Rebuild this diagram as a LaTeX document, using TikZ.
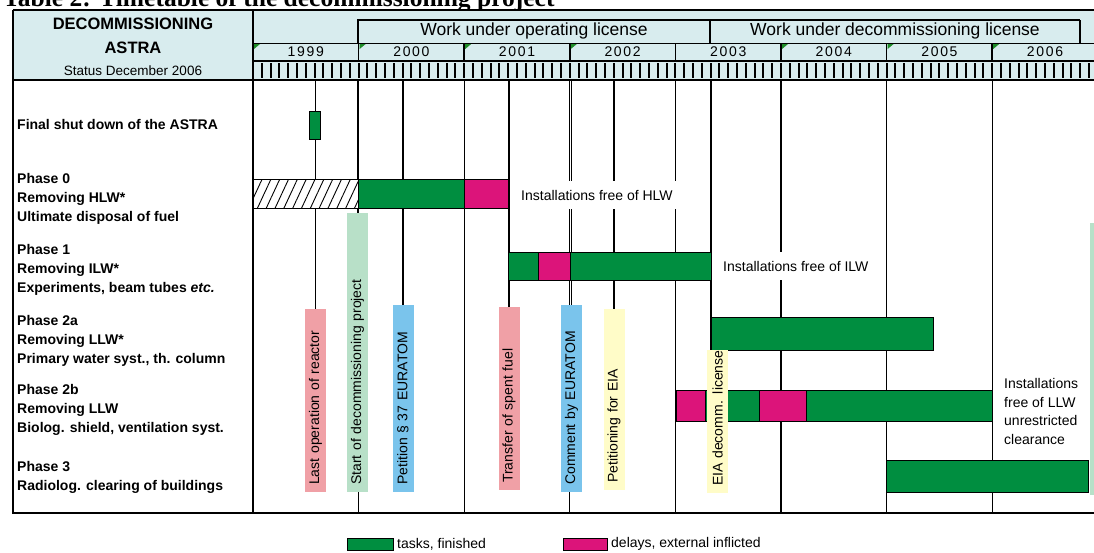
\documentclass[tikz,border=0pt]{standalone}
\usepackage{fontspec}
\setmainfont{Liberation Sans}
\newfontfamily\titlefont{Liberation Serif}
\newfontfamily\yearfont[LetterSpace=12]{Liberation Sans}
\usetikzlibrary{patterns.meta}
\definecolor{hdrbg}{RGB}{216,236,238}
\definecolor{taskgreen}{RGB}{0,142,64}
\definecolor{delaymag}{RGB}{220,20,122}
\definecolor{evpink}{RGB}{240,160,166}
\definecolor{evgreen}{RGB}{184,224,200}
\definecolor{evblue}{RGB}{122,196,236}
\definecolor{evyellow}{RGB}{255,252,200}
\definecolor{yrmark}{RGB}{30,140,40}
\tikzset{
  gridline/.style={line width=1.2pt},
  frameline/.style={line width=1.6pt},
  monthtick/.style={line width=2pt},
  task/.style={draw, line width=1pt, fill=taskgreen},
  delay/.style={draw, line width=1pt, fill=delaymag},
  evlabel/.style={rotate=90, anchor=west, inner xsep=7pt, inner ysep=0pt,
    minimum height=21pt, align=left, font=\fontsize{14}{16}\selectfont},
  rowtext/.style={anchor=north west, align=left, inner sep=0pt,
    font=\fontsize{14}{19}\selectfont\bfseries},
  freetext/.style={fill=white, inner xsep=4pt, minimum height=28pt,
    font=\fontsize{14}{16}\selectfont},
  hdrtext/.style={font=\fontsize{17.5}{19}\selectfont, inner sep=0pt},
  yeartext/.style={font=\yearfont\fontsize{14}{15}\selectfont, inner sep=0pt},
}
\begin{document}
\begin{tikzpicture}[x=1pt,y=-1pt]%[line join=round, line cap=round]
  \useasboundingbox (0,0) rectangle (1094,552);
  \def\xl{13} \def\xs{253} \def\xr{1100} \def\yw{105.6}
  \def\ytop{10} \def\yhdr{80} \def\ybot{513}
  \coordinate (hdr) at (0,\yhdr);
  \node[anchor=base west, inner sep=0pt, font=\titlefont\bfseries\fontsize{25.5}{28}\selectfont] (tabtitle) at (3,6.5) {Table 2: Timetable of the decommissioning project};
  % header
  \fill[hdrbg] (\xl,\ytop) rectangle (\xr,\yhdr);
  \draw[frameline] (\xl,\ytop) -- (\xr,\ytop);
  \draw[frameline] (\xl,\ytop) -- (\xl,\ybot) -- (\xr,\ybot);
  \draw[frameline] (\xs,\ytop) -- (\xs,\ybot);
  \draw[line width=2pt] (\xl,\yhdr) -- (\xr,\yhdr);
  \draw[line width=2pt] (\xs,61) -- (\xr,61);
  \draw[line width=1pt] (\xs,43) -- (\xr,43);
  \draw[frameline] (358,43) -- (358,20) -- (1080,20);
  \draw[frameline] (710,20) -- (710,43);
  \draw[line width=2.5pt] (1080,20) -- (1080,43);
  \node[font=\fontsize{16.5}{18}\selectfont\bfseries] (hdrdecom) at (133,24) {DECOMMISSIONING};
  \node[font=\fontsize{16.5}{18}\selectfont\bfseries] (hdrastra) at (133,48) {ASTRA};
  \node[font=\fontsize{13.5}{15}\selectfont] (hdrstatus) at (133,71) {Status December 2006};
  \node[hdrtext] (oplic) at (534,31) {Work under operating license};
  \node[hdrtext] (declic) at (895,31) {Work under decommissioning license};
  \foreach \yr [count=\i from 0] in {1999,...,2006}{
    \node[yeartext] (y\yr) at ({\xs+\yw*(\i+0.5)},52) {\yr};
    \draw[line width=1.6pt] ({\xs+\yw*\i},43) -- ({\xs+\yw*\i},61);
  }
  \foreach \i in {0,1,2,3,5,6,7}
    \fill[yrmark] ({\xs+\yw*\i+1},44) -- ++(6,0) -- ++(-6,5) -- cycle;
  \foreach \m in {0,...,95}
    \draw[monthtick] ({\xs+\m*8.8},63) -- ++(0,15);
  % year lines
  \foreach \i in {1,...,7}
    \draw[gridline] ({\xs+\yw*\i},\yhdr) -- ({\xs+\yw*\i},\ybot);
  % rows
  \node[rowtext] (rshut) at (17,119) {Final shut down of the ASTRA};
  \node[rowtext] (rph0) at (17,173) {Phase 0\\Removing HLW*\\Ultimate disposal of fuel};
  \node[rowtext] (rph1) at (17,244) {Phase 1\\Removing ILW*\\Experiments, beam tubes \textit{etc.}};
  \node[rowtext] (rph2a) at (17,315) {Phase 2a\\Removing LLW*\\Primary water syst., th. column};
  \node[rowtext] (rph2b) at (17,384) {Phase 2b\\Removing LLW\\Biolog. shield, ventilation syst.};
  \node[rowtext] (rph3) at (17,461) {Phase 3\\Radiolog. clearing of buildings};
  % events
  \node[evlabel, fill=evpink, text width=169pt] (lastop) at (315.5,492) {Last operation of reactor};
  \node[evlabel, fill=evgreen, text width=265pt] (startdec) at (357.5,492) {Start of decommissioning project};
  \node[evlabel, fill=evblue, text width=173pt] (petition) at (403,492) {Petition \S\ 37 EURATOM};
  \node[evlabel, fill=evpink, text width=169pt] (transfer) at (509,490) {Transfer of spent fuel};
  \node[evlabel, fill=evblue, text width=173pt] (comment) at (571.5,492) {Comment by EURATOM};
  \node[evlabel, fill=evyellow, text width=167pt] (peteia) at (614,490) {Petitioning for EIA};
  \foreach \ev in {lastop,startdec,petition,transfer,comment,peteia}
    \draw[gridline] (\ev.east) -- (\ev.east |- hdr);
  \draw[gridline] (711,\yhdr) -- (711,351);
  % bars
  \draw[task] (309,111) rectangle (320,139);
  \draw[line width=1pt, fill=white] (\xs,179) rectangle (358,208);
  \fill[pattern={Lines[angle=65,distance=8pt,line width=0.9pt]}] (\xs,179) rectangle (358,208);
  \draw[line width=1pt] (\xs,179) rectangle (358,208);
  \draw[task] (358,179) rectangle (464,208);
  \draw[delay] (464,179) rectangle (508,208);
  \draw[task] (508,252) rectangle (538,280);
  \draw[delay] (538,252) rectangle (570,280);
  \draw[task] (570,252) rectangle (711,280);
  \draw[task] (711,317) rectangle (933,350);
  \draw[delay] (676,390) rectangle (705,421);
  \draw[task] (705,390) rectangle (759,421);
  \draw[delay] (759,390) rectangle (806,421);
  \draw[task] (806,390) rectangle (992,421);
  \draw[task] (886,460) rectangle (1088,492);
  \node[evlabel, fill=evyellow, text width=129pt] (eiadec) at (717.5,493) {\mbox{EIA decomm. license}};
  \fill[evgreen] (1090,223) rectangle (1100,495);
  % results
  \node[freetext, anchor=west] (freehlw) at (517,195) {Installations free of HLW};
  \node[freetext, anchor=west] (freeilw) at (719,266) {Installations free of ILW};
  \node[freetext, anchor=north west, align=left, inner sep=0pt, font=\fontsize{14}{18.7}\selectfont] (freellw) at (1004,378) {Installations\\free of LLW\\unrestricted\\clearance};
  % legend
  \draw[task] (347,538) rectangle (393,550);
  \node[anchor=west, inner sep=2pt, font=\fontsize{14}{16}\selectfont] (legtask) at (395,544) {tasks, finished};
  \draw[delay] (563,538) rectangle (607,550);
  \node[anchor=west, inner sep=2pt, font=\fontsize{14}{16}\selectfont] (legdelay) at (609,544) {delays, external inflicted};
\end{tikzpicture}
\end{document}
